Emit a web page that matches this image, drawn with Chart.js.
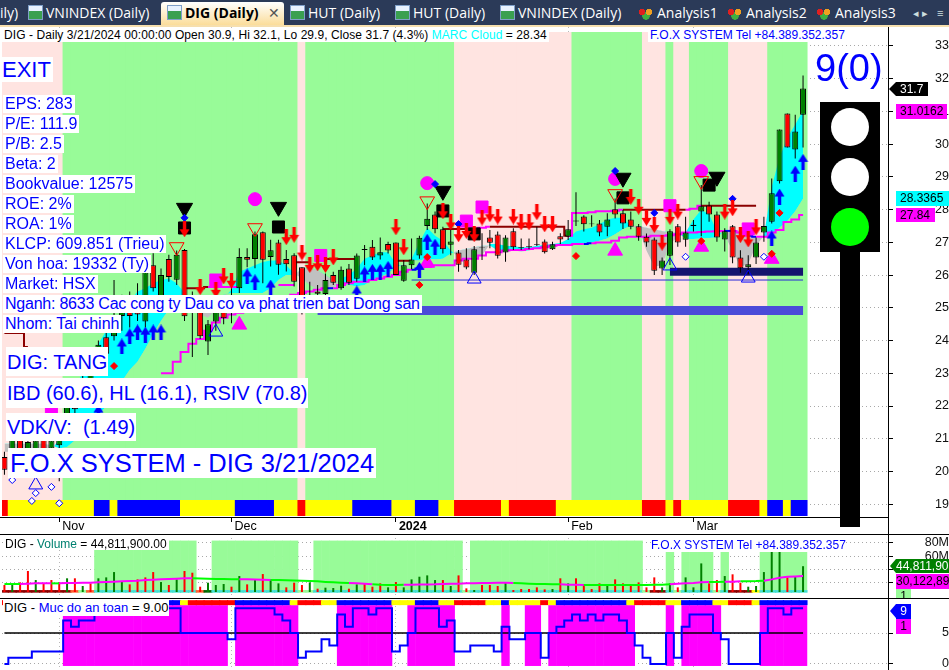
<!DOCTYPE html>
<html><head><meta charset="utf-8">
<script src="https://cdn.jsdelivr.net/npm/chart.js@4"></script>
<style>
html,body{margin:0;padding:0;width:949px;height:670px;overflow:hidden;background:#fff;font-family:"Liberation Sans",Arial,sans-serif}
canvas{position:absolute;left:0;display:block}
.a{position:absolute;white-space:nowrap}
.lb{position:absolute;white-space:nowrap;background:#fff;color:#00f;padding:0 2px}
.r{font-size:16px;line-height:18px;height:18px;left:3px;margin-top:1px}
.t{position:absolute;top:4px;font:14px/18px "Open Sans",sans-serif;color:#fff;white-space:nowrap}
.ic{position:absolute;top:5px;width:15px;height:15px;background:linear-gradient(#e8f2ff 0 40%,#3aa050 40% 100%);border:1px solid #7f9fc8;box-sizing:border-box}
.ha{position:absolute;top:8px;width:14px;height:12px;background:radial-gradient(circle at 3px 4px,#e02020 3px,transparent 3.5px),radial-gradient(circle at 10px 4px,#f0a020 3px,transparent 3.5px),radial-gradient(circle at 7px 8px,#40b040 3.5px,transparent 4px)}
.tag{position:absolute;font-size:12px;line-height:15px;height:15px;white-space:nowrap;overflow:hidden;padding-left:4px;box-sizing:border-box}
.arr{position:absolute;width:0;height:0;border-top:7px solid transparent;border-bottom:7px solid transparent}
.hl{position:absolute;background:#000}
</style></head><body>

<canvas id="cMain" width="949" height="507" style="top:27px"></canvas>
<canvas id="cVol" width="949" height="64" style="top:534px"></canvas>
<canvas id="cSafe" width="949" height="72" style="top:598px"></canvas>

<div class="a" style="left:0;top:0;width:949px;height:25px;background:#2b3a58"></div>
<div class="a" style="left:0;top:25px;width:949px;height:2px;background:#f6dfae"></div>
<div class="a" style="left:161px;top:2px;width:123px;height:23px;background:linear-gradient(#fff,#fbdd9a);border-radius:3px 3px 0 0"></div>
<span class="t" style="left:0">ily)</span>
<span class="ic" style="left:28px"></span><span class="t" style="left:46px">VNINDEX (Daily)</span>
<span class="ic" style="left:167px"></span><span class="t" style="left:185px;color:#000;font-weight:bold">DIG (Daily)</span><span class="t" style="left:268px;color:#555">✕</span>
<span class="ic" style="left:290px"></span><span class="t" style="left:308px">HUT (Daily)</span>
<span class="ic" style="left:395px"></span><span class="t" style="left:413px">HUT (Daily)</span>
<span class="ic" style="left:500px"></span><span class="t" style="left:518px">VNINDEX (Daily)</span>
<span class="ha" style="left:639px"></span><span class="t" style="left:657px">Analysis1</span>
<span class="ha" style="left:728px"></span><span class="t" style="left:746px">Analysis2</span>
<span class="ha" style="left:817px"></span><span class="t" style="left:835px">Analysis3</span>
<span class="t" style="left:913px;font-size:11px;color:#cdd">◂ ▸</span><span class="t" style="left:937px;font-size:11px;color:#cdd">≡</span>

<div class="hl" style="left:0;top:517px;width:888px;height:1px"></div>
<div class="hl" style="left:0;top:534px;width:949px;height:1px"></div>
<div class="hl" style="left:0;top:598px;width:949px;height:1px"></div>
<div class="hl" style="left:888px;top:27px;width:1px;height:643px"></div>

<div class="lb" style="left:2px;top:28px;height:14px;font-size:12px;line-height:15px;color:#000;padding:0 2px;letter-spacing:.07px">DIG - Daily 3/21/2024 00:00:00 Open 30.9, Hi 32.1, Lo 29.9, Close 31.7 (4.3%) <span style="color:#0ff">MARC Cloud</span> = 28.34</div>
<div class="lb" style="left:648px;top:28px;height:14px;font-size:12px;line-height:15px">F.O.X SYSTEM Tel +84.389.352.357</div>
<div class="lb" style="left:0;top:57px;font-size:22px;line-height:25px;height:25px;padding:0 2px">EXIT</div>
<div class="lb r" style="top:94px">EPS: 283</div>
<div class="lb r" style="top:114px">P/E: 111.9</div>
<div class="lb r" style="top:134px">P/B: 2.5</div>
<div class="lb r" style="top:154px">Beta: 2</div>
<div class="lb r" style="top:174px">Bookvalue: 12575</div>
<div class="lb r" style="top:194px">ROE: 2%</div>
<div class="lb r" style="top:214px">ROA: 1%</div>
<div class="lb r" style="top:234px">KLCP: 609.851 (Trieu)</div>
<div class="lb r" style="top:254px">Von hoa: 19332 (Ty)</div>
<div class="lb r" style="top:274px">Market: HSX</div>
<div class="lb r" style="top:294px;letter-spacing:-.23px">Nganh: 8633 Cac cong ty Dau co va phat trien bat Dong san</div>
<div class="lb r" style="top:314px">Nhom: Tai chinh</div>
<div class="lb" style="left:6px;top:347px;height:29px;font-size:20px;line-height:30px;padding:0 1px">DIG: TANG</div>
<div class="lb" style="left:6px;top:378px;height:30px;font-size:20px;line-height:30px;padding:0 1px">IBD (60.6), HL (16.1), RSIV (70.8)</div>
<div class="lb" style="left:6px;top:413px;height:28px;font-size:20px;line-height:29px;padding:0 1px">VDK/V:&nbsp; (1.49)</div>
<div class="lb" style="left:8px;top:448px;height:30px;font-size:25.5px;line-height:31px;padding:0 2px">F.O.X SYSTEM - DIG 3/21/2024</div>

<div class="a" style="left:815px;top:46px;font-size:38px;line-height:44px;color:#00f">9(0)</div>
<div class="a" style="left:820px;top:102px;width:60px;height:150px;background:#000"></div>
<div class="a" style="left:840px;top:252px;width:20px;height:275px;background:#000"></div>
<div class="a" style="left:831px;top:108px;width:38px;height:38px;border-radius:50%;background:#fff"></div>
<div class="a" style="left:831px;top:158px;width:38px;height:38px;border-radius:50%;background:#fff"></div>
<div class="a" style="left:831px;top:208px;width:38px;height:38px;border-radius:50%;background:#0f0"></div>

<div class="arr" style="left:889px;top:82px;border-right:7px solid #000"></div>
<div class="tag" style="left:896px;top:82px;width:32px;background:#000;color:#fff;height:14px">31.7</div>
<div class="tag" style="left:896px;top:104px;width:51px;background:#f0f;color:#000">31.0162</div>
<div class="tag" style="left:896px;top:191px;width:53px;background:#0ff;color:#000">28.3365</div>
<div class="tag" style="left:896px;top:208px;width:39px;background:#f0f;color:#000;height:14px">27.84</div>

<div class="lb" style="left:3px;top:537px;height:13px;font-size:12px;line-height:14px;color:#000">DIG - <span style="color:#008070">Volume</span> = 44,811,900.00</div>
<div class="a" style="left:651px;top:538px;font-size:12px;line-height:14px;color:#00f;background:#fff">F.O.X SYSTEM Tel +84.389.352.357</div>
<div class="arr" style="left:890px;top:559px;border-right:6px solid #008000"></div>
<div class="tag" style="left:896px;top:559px;width:53px;background:#008000;color:#fff;height:14px;padding-left:0">44,811,900</div>
<div class="tag" style="left:896px;top:574px;width:53px;background:#f0f;color:#000;padding-left:0">30,122,890</div>
<div class="tag" style="left:896px;top:589px;width:15px;height:9px;background:#98fb98;color:#000;text-align:center;padding:0">1</div>

<div class="lb" style="left:3px;top:600px;height:16px;font-size:13px;line-height:16px;color:#000;padding:0 1px">DIG - <span style="color:#00f">Muc do an toan</span> = 9.00</div>
<div class="arr" style="left:890px;top:604px;border-right:6px solid #00f"></div>
<div class="tag" style="left:896px;top:604px;width:15px;background:#00f;color:#fff;padding:0;text-align:center">9</div>
<div class="tag" style="left:896px;top:619px;width:15px;background:#f0f;color:#000;padding:0;text-align:center">1</div>

<script>
const _ = null;
// x positions are bar indexes (0..102); the axis window below maps them to the 8-px bar slots
const monthIdx = [7, 29, 50, 72, 88];
const monthLbl = ['Nov', 'Dec', '2024', 'Feb', 'Mar'];
const priceTicks = [19,20,21,22,23,24,25,26,27,28,29,30,31,32,33];
const volTicks = [20e6,40e6,60e6,80e6];
const safeTicks = [0,5];

const opens = [20.44,20.66,21.0,20.5,20.55,21.0,20.7,20.8,21.3,22.3,22.2,22.7,23.2,24.1,24.13,24.75,24.9,24.95,24.58,26.3,25.3,26.49,25.86,26.77,25.24,24.89,23.97,24.58,24.89,25.0,
25.6,26.55,26.49,27.31,26.55,27.0,26.49,26.61,26.24,25.1,25.5,25.42,26.0,25.6,26.2,25.89,26.8,26.87,26.6,26.95,27.0,25.83,26.3,26.6,27.5,27.85,27.4,26.93,26.69,26.48,
26.07,26.86,27.15,27.24,26.69,27.34,26.85,26.85,26.94,27.03,26.79,27.19,27.17,27.67,27.79,27.58,27.58,27.48,28.01,27.89,27.7,27.49,27.17,27.09,26.2,26.59,27.49,27.08,27.5,27.94,
28.13,27.85,27.09,27.49,26.54,26.24,26.54,27.3,27.63,28.87,30.94,29.84,30.9];
const highs = [20.6,21.1,21.2,21.1,21.2,21.2,21.2,21.5,22.15,22.5,23.0,23.5,24.0,24.4,25.85,25.4,25.5,25.75,26.2,26.67,26.2,26.62,26.75,26.8,25.5,25.2,24.63,25.1,25.2,25.7,
26.82,26.82,27.33,27.33,27.08,27.08,26.77,26.67,26.24,25.8,25.7,26.05,26.1,26.26,26.34,26.66,26.92,27.07,27.15,27.02,27.0,26.46,27.12,27.2,28.19,27.94,27.48,27.48,26.77,26.82,
26.89,27.28,27.38,27.33,27.22,27.43,27.12,27.12,27.48,27.09,27.02,27.28,27.68,28.53,27.83,27.83,27.68,27.89,28.34,27.99,27.94,27.56,27.27,27.15,26.54,27.4,27.56,27.78,27.68,28.75,
28.24,27.94,27.43,27.53,26.76,26.61,27.15,27.78,28.95,30.45,30.94,30.9,32.1];
const lows = [19.9,20.5,20.4,20.3,20.4,20.4,20.4,19.7,21.1,21.7,22.0,22.5,23.0,23.4,24.0,24.3,24.4,24.6,24.4,25.5,25.1,25.8,25.7,24.6,23.5,24.05,23.56,24.3,24.5,24.53,
25.45,26.24,26.21,25.75,26.26,26.01,26.11,25.65,24.8,24.9,24.9,25.34,25.7,25.55,25.7,25.8,26.3,26.46,26.48,26.66,26.0,25.8,26.18,26.5,27.38,27.28,26.66,26.61,26.1,26.18,
26.0,26.46,26.82,26.51,26.41,26.77,26.77,26.79,26.89,26.66,26.77,26.95,27.07,27.5,27.33,27.48,27.19,27.19,27.73,27.41,27.4,27.05,26.87,26.0,26.0,26.31,26.87,26.87,27.33,27.19,
27.63,27.02,26.72,26.36,26.07,26.03,26.34,27.02,27.58,28.8,29.9,29.56,29.9];
const closes = [20.05,20.96,20.6,20.9,20.95,20.6,20.95,21.2,21.97,21.9,22.8,23.3,23.87,23.6,24.28,24.9,24.75,24.8,26.09,25.6,26.0,25.94,26.62,24.74,24.93,24.13,24.5,24.89,24.68,24.9,
26.55,26.47,27.25,26.47,26.76,26.32,26.33,25.8,24.89,25.3,25.43,25.85,25.77,26.16,25.77,26.6,26.77,26.54,26.7,26.75,26.0,26.3,26.48,27.14,27.72,27.4,26.79,27.03,26.32,26.23,
26.79,26.84,26.99,26.59,27.15,26.85,26.82,26.88,26.92,26.7,26.94,27.09,27.4,27.64,27.55,27.55,27.3,27.7,27.85,27.58,27.48,27.17,27.0,26.13,26.45,27.34,27.0,27.3,27.54,28.1,
27.85,27.15,27.34,26.54,26.21,26.33,27.0,27.5,28.5,30.45,29.9,30.39,31.7];

// MARC cloud: two edges, cyan where the first is above the second, grey where below
const cloudA = [20.6,20.6,20.6,20.6,20.6,20.6,20.65,21.0,22.2,22.6,23.0,23.4,23.9,24.3,24.5,24.9,25.2,25.5,25.6,25.75,25.85,25.9,25.75,25.45,25.2,24.8,24.7,24.95,25.3,25.55,
26.1,26.2,26.3,26.4,26.45,26.45,26.3,26.05,25.9,25.7,25.55,25.45,25.6,25.9,26.0,26.2,26.5,26.6,26.7,26.7,26.35,26.25,26.5,27.0,27.45,27.2,27.05,26.75,26.55,26.5,
26.55,26.6,26.95,26.95,26.9,26.88,26.85,26.85,26.9,26.92,26.95,26.98,27.1,27.33,27.4,27.45,27.55,27.7,27.75,27.75,27.5,27.42,26.75,26.26,26.3,26.97,27.15,27.3,27.7,28.0,
27.85,27.35,27.2,26.75,26.25,26.35,26.9,27.2,28.69,29.6,30.2,30.6,31.0162];
const cloudB = [20.85,20.85,20.85,20.85,20.85,20.85,20.8,20.7,20.75,20.95,21.25,21.5,21.7,22.0,22.35,22.75,23.1,23.35,23.75,24.2,24.6,24.95,25.2,25.3,25.3,25.25,25.2,25.15,25.4,25.45,
25.45,25.45,25.45,25.45,25.6,25.85,26.0,26.0,26.2,26.2,26.15,26.0,25.85,25.75,25.7,25.65,25.7,25.85,25.95,26.05,26.25,26.3,26.45,26.45,26.5,26.48,26.5,26.65,26.75,26.8,
26.85,26.9,26.9,26.75,26.75,26.75,26.72,26.75,26.82,26.85,26.88,26.9,26.92,26.97,26.98,27.0,27.05,27.12,27.25,27.4,27.5,27.5,27.45,27.4,27.35,27.3,27.3,27.1,27.1,27.12,
27.13,27.15,27.35,27.4,27.35,27.25,27.15,27.15,27.25,27.45,27.65,27.95,28.3365];

const stopLine = [_,_,_,_,_,_,_,_,_,_,_,_,_,_,_,_,_,_,_,_,23.0,23.0,23.35,23.65,23.9,24.05,24.3,24.55,24.7,24.8,
24.85,24.9,25.0,25.1,25.2,25.3,25.35,25.4,25.45,25.5,25.55,25.6,25.6,25.7,25.75,25.8,25.8,25.85,25.9,25.95,26.0,26.1,26.16,26.2,26.25,26.3,26.3,26.3,26.45,26.5,
26.5,26.6,26.7,26.7,26.75,26.77,26.77,26.8,26.82,26.85,26.9,26.92,26.92,26.95,26.95,26.97,27.0,27.0,27.05,27.15,27.17,27.17,27.17,27.2,27.2,27.22,27.25,27.3,27.3,27.32,
27.33,27.34,27.35,27.35,27.3,27.2,27.17,27.17,27.3,27.38,27.62,27.7,27.84];
const stopBlueBars = [41,52,74,92,95];

const resDark = [24.23,24.23,24.23,23.8,_,_,_,_,_,_,_,_,_,_,_,_,_,_,_,_,_,_,_,25.6,25.6,25.6,25.64,_,_,_,
_,_,_,_,_,_,_,26.39,26.39,26.39,_,26.49,26.49,26.49,26.49,26.49,_,_,_,_,26.44,26.44,26.44,_,_,_,27.41,27.41,27.41,27.41,
27.41,_,27.48,27.48,27.48,27.48,27.48,27.48,27.48,27.48,27.48,27.48,27.2,_,_,_,_,_,_,28.0,28.0,28.0,28.0,28.0,28.0,28.0,28.0,28.0,_,28.12,
28.12,28.12,28.12,28.12,28.12,28.12,28.12,_,_,_,_,_,_];
const resMagenta = [[26,25.64],[27,25.64],[28,25.64],[29,25.64],[30,25.64],[31,_],[35,25.7],[36,25.7],[37,25.7],[38,_],[60,27.41],[61,27.45],[62,27.48],[63,_],[72,27.2],[73,27.9],[74,27.9],[75,27.92],[76,27.95],[77,27.95],[78,27.97],[79,28.0],[80,_],[87,28.0],[88,28.03],[89,28.12]];

const navyBand = [[85,26.1],[102,26.1]];
const blueBand = [[40,24.92],[102,24.92]];
const thinLine = [[52,25.85],[102,25.85]];

function rle(s){const o=[];s.split(' ').forEach(t=>{for(let k=0;k<+t.slice(1);k++)o.push(t[0])});return o}
const mainBand = rle('P8 G30 P1 G19 P15 G9 P3 G1 P2 G5 P5 G5');
const mainRibbon = rle('R1 Y11 B2 Y1 B8 Y7 B5 Y3 R1 Y6 B5 Y3 B3 Y2 R6 Y1 R6 Y11 R3 Y1 R1 Y6 R4 Y1 B2 Y1 B2');
const volBand = rle('N12 T13 N2 T11 N2 T19 N1 T22 N3 S1 N1 S4 N1 S1 N4 S6');
const volStrip = rle('D9 O1 G1 O1 T13 O1 K1 T11 G2 T19 G1 T22 G1 D2 T1 G1 T4 G1 T1 D3 Y1 T6');
const safeBand = rle('N8 M21 N1 M8 N5 M7 N2 M6 N6 M1 N2 M2 N1 M11 N4 M1 N1 M5 N5 M6');
const safeRibbon = rle('R1 Y11 B2 Y1 B8 Y1 R6 B7 Y1 R3 Y2 B7 Y3 B3 Y2 R4 Y2 B1 Y4 R1 Y1 B9 Y1 R4 Y2 B4 Y2 R3 Y1 B6');
const safeLine = [0,1,1,1,2,2,2,2,7,6,7,7,8,8,8,9,9,9,9,9,9,9,9,5,5,5,5,5,5,4,
9,9,9,9,9,8,7,5,1,2,2,4,3,8,6,9,9,8,9,9,2,3,5,9,9,9,6,7,2,2,
3,3,3,2,6,4,4,5,5,1,5,6,7,8,7,8,7,8,8,7,5,3,1,0,0,5,1,6,8,8,
8,5,4,0,0,0,0,5,9,9,8,9,9];

const volumes = [16.5,16.5,20.5,37.6,24,19,24,20.5,26.6,26.6,15,19,26.6,28,36,21.5,17.5,25,28,36,21,16.5,25,37.6,35,14,20,16.5,18,14,
30,17.5,25,33,25,19,13,20,16.5,20.5,11,12.5,12,15.5,11,17.5,18,14,19,13,21,13,25,29,31,24,24,15,31,11.5,
9,16.5,16.5,15,20,9,10.5,10.5,13,10,10.5,26.6,19,26.6,17.5,10.5,19,16.5,25,19,16.5,20.5,13,28,13,19,13,28,13,49,
19,24,30,32.6,20,14,15,36,67.7,67.7,28,29,44.81].map(v=>v*1e6);
const volUpDown = 'rgrrgrrrgrgrggggrrrrgrgrrrgggrgrgrggrrrgrgggrgrrrgrgggggrgrrgrrrgrrrrrgrgrrrrgrrrrrrggrgggrrgrrgggggrgg'.split('');
const volMA = [18,18,18,18.5,19,19,19,19,19.5,19.5,20,20,20.5,21,21.5,22,22.5,23,24,24.5,25,25.5,26,26.6,26.6,26.3,26,25.5,25.5,25.2,
25,25,24.8,24.5,24,24,23.7,23.3,23,22.5,22,21.2,20.5,20,19.5,19,18.3,17.8,17,16.5,16.5,17,17,17.2,17.3,17.5,18,18.5,18.5,19,
19,19.5,19.5,20,20,19.5,19,18.5,18,18,17.5,17.5,17,17,16.5,16.5,16.5,16.5,16.5,16.5,16.5,16.5,16.5,17,17,17.5,18.5,19,19.5,20.5,
21,21,21.5,21.5,22,22.3,22.5,23,25,27.5,29,29.5,30.12].map(v=>v*1e6);
const volMAColor = rle('G2 M4 G1 M17 G6 M4 G10 M3 G4 M14 G6 M3 G11 M5 G2 M2 G3 M6');

// markers: [bar index, price]
const redArrows = [[23,27.40],[25,25.63],[27,25.55],[28,25.96],[29,25.83],[36,27.16],[37,27.23],[38,26.69],[39,26.31],[40,26.36],[41,26.31],[42,26.54],[50,27.46],[51,26.85],[56,27.95],[57,27.61],[58,27.25],[59,27.35],[60,27.25],[61,27.76],[62,27.86],[63,27.79],[65,27.79],[66,27.61],[67,27.61],[68,27.92],[69,27.55],[70,27.55],[80,28.39],[81,28.09],[82,27.75],[83,27.53],[84,26.99],[85,27.78],[86,27.94],[92,27.94],[93,28.04],[94,27.22],[95,27.09],[96,27.46]];
const blueArrows = [[12,21.8],[15,23.82],[16,24.13],[17,24.25],[18,24.18],[19,24.25],[20,24.25],[31,25.96],[32,25.78],[34,25.62],[45,25.44],[46,26.02],[47,26.1],[48,26.1],[49,26.19],[53,26.16],[54,27.02],[55,26.87],[98,27.12],[99,28.4],[101,29.1],[102,29.46]];
const blackDown = [[23,28.05],[35,28.08],[56,28.57],[79,28.97],[91,29.0]];
const blackSquare = [[23,27.44],[35,27.47],[56,27.96],[60,27.26],[79,28.36],[90,28.75]];
const magSquare = [[6,21.94],[27,25.85],[40.4,26.6],[59,27.65],[61,28.08],[85,28.12],[95,27.41]];
const magCircle = [[32,28.32],[54,28.81],[78,28.94],[89,29.18]];
const magTriangle = [[30,24.48],[54,26.37],[78,26.74],[89,26.86],[98,26.49]];
const redHollowDown = [[22,26.86],[32,27.44],[54,28.26],[78,28.48],[89,28.88]];
const blueHollowUp = [[27,24.26],[60,25.88],[85,26.28],[95,25.91],[4,19.59]];
const redDiamond = [[14,23.22],[53,25.7],[54,26.55],[73,26.58],[89,27.04],[98,26.65],[99,27.9]];
const blueDiamond = [[23,27.75],[55,28.78],[58,27.56],[78,29.18],[83,27.9],[93,28.33]];
const blueHollowDiamond = [[87,26.56],[97,26.56],[6,19.53],[4,19.34],[1,19.74],[3.5,19.1],[7,19.03]];

// axis windows
const X_MIN=-0.31, X_MAX=112.85;
const idx = opens.map((v,i)=>i);
const pts = a => a.map(p=>({x:p[0],y:p[1]}));
const ser = a => a.map((v,i)=>({x:i,y:v}));
const colr = {G:'#98fb98',P:'#ffe4e1',R:'#ff0000',Y:'#ffff00',B:'#0000ff',T:'#40e0d0',D:'#8b0000',O:'#ff6030',K:'#006400',M:'#ff00ff'};

function arrow(color,up){const c=document.createElement('canvas');c.width=11;c.height=16;const g=c.getContext('2d');g.fillStyle=color;
 g.beginPath();if(up){g.moveTo(5.5,0);g.lineTo(10.5,8);g.lineTo(7.2,8);g.lineTo(7.2,16);g.lineTo(3.8,16);g.lineTo(3.8,8);g.lineTo(.5,8)}
 else{g.moveTo(5.5,16);g.lineTo(10.5,8);g.lineTo(7.2,8);g.lineTo(7.2,0);g.lineTo(3.8,0);g.lineTo(3.8,8);g.lineTo(.5,8)}g.closePath();g.fill();return c}

const band=(data,colors,order,thick=9)=>({type:'bar',grouped:false,barThickness:thick,order,data,backgroundColor:colors,borderWidth:0,inflateAmount:0});
const mark=(data,style,r,fill,stroke,order,rot=0,bw=1)=>({type:'line',showLine:false,data:pts(data),pointStyle:style,pointRadius:r,pointBackgroundColor:fill,pointBorderColor:stroke,pointBorderWidth:bw,pointRotation:rot,order});
const line=(data,color,w,order,extra={})=>Object.assign({type:'line',data,borderColor:color,borderWidth:w,pointRadius:0,order,stepped:'middle',tension:0},extra);
const noPad=s=>{s.paddingTop=s.paddingBottom=s.paddingLeft=s.paddingRight=0};

function xAxis(opts){return Object.assign({type:'linear',min:X_MIN,max:X_MAX,offset:false,
  afterBuildTicks:s=>{s.ticks=monthIdx.map(v=>({value:v}))},
  grid:{display:true,color:'#b8b8b8',drawTicks:false,lineWidth:1,offset:false},border:{display:false,dash:[1,3]},
  afterFit:s=>{s.height=0;noPad(s)},ticks:{display:false}},opts)}
function yAxis(min,max,ticks,pad,cb){return {type:'linear',position:'right',min,max,
  afterBuildTicks:s=>{s.ticks=ticks.map(v=>({value:v}))},
  afterFit:s=>{s.width=61;noPad(s)},
  grid:{color:'#a8a8a8',tickColor:'#000',tickLength:5,lineWidth:1,tickBorderDash:[]},border:{display:false,dash:[1,3]},
  ticks:{color:'#111',font:{family:'"Liberation Sans"',size:12.5},padding:pad,crossAlign:'far',autoSkip:false,maxRotation:0,callback:cb||(v=>v)}}}
const base={responsive:false,animation:false,events:[],layout:{autoPadding:false,padding:{left:2,right:0,top:0,bottom:0}},plugins:{legend:{display:false},tooltip:{enabled:false},title:{display:false}}};

// ---- main pane
new Chart(document.getElementById('cMain'),{type:'bar',
 data:{datasets:[
  band(idx.map(i=>({x:i,y:[19.13,33.43]})),mainBand.map(k=>colr[k]),100),
  band(idx.map(i=>({x:i,y:[18.64,19.13]})),mainRibbon.map(k=>colr[k]),100),
  line(ser(cloudA),'transparent',0,90,{stepped:false,fill:{target:'+1',above:'#00ffff',below:'#c0c0c0'}}),
  line(ser(cloudB),'transparent',0,91,{stepped:false}),
  line(pts(blueBand),'#4b4bd8',9,80,{stepped:false,borderCapStyle:'butt'}),
  line(pts(navyBand),'#14146e',8,80,{stepped:false}),
  line(pts(thinLine),'#2a2ad8',1,80,{stepped:false}),
  line(ser(stopLine),'#ff00ff',2,70,{segment:{borderColor:c=>stopBlueBars.includes(c.p0DataIndex)?'#0000ff':undefined}}),
  line(ser(resDark),'#8b0000',2,69),
  line(pts(resMagenta),'#ff00ff',2,69),
  {type:'bar',grouped:false,barThickness:1,order:60,data:idx.map(i=>({x:i,y:[lows[i],highs[i]]})),backgroundColor:'#000',borderWidth:0,inflateAmount:0},
  {type:'bar',grouped:false,barThickness:6,order:50,data:idx.map(i=>({x:i,y:[Math.min(opens[i],closes[i]),Math.max(opens[i],closes[i])]})),
   backgroundColor:idx.map(i=>closes[i]>=opens[i]?'#008000':'#ff0000'),borderColor:'#000',borderWidth:1,borderSkipped:false,inflateAmount:0},
  mark(magSquare,'rect',8.5,'#ff00ff','#ff00ff',42),
  mark(magTriangle,'triangle',8.5,'#ff00ff','#ff00ff',42),
  mark(magCircle,'circle',6.5,'#ff00ff','#ff00ff',42),
  mark(blackSquare,'rect',8.5,'#000','#000',41),
  mark(blackDown,'triangle',9.3,'#000','#000',40,180),
  mark(redHollowDown,'triangle',8.5,'transparent','#ff0000',40,180),
  mark(blueHollowUp,'triangle',8,'transparent','#0000ff',40),
  mark(redDiamond,'rectRot',3.5,'#ff0000','#ff0000',39),
  mark(blueDiamond,'rectRot',3.5,'#0000ff','#0000ff',39),
  mark(blueHollowDiamond,'rectRot',3.5,'#fff','#0000ff',39),
  mark(blueArrows,arrow('#0000ff',true),6,'#00f','#00f',38),
  mark(redArrows,arrow('#ff0000',false),6,'#f00','#f00',37)
 ]},
 options:Object.assign({},base,{scales:{
  x:Object.assign(xAxis(),{
    afterFit:s=>{s.height=17;noPad(s)},
    grid:{display:true,color:'#b8b8b8',drawTicks:true,tickLength:5,tickColor:'#000',tickBorderDash:[],lineWidth:1,offset:false},
    ticks:{display:true,autoSkip:false,maxRotation:0,align:'start',labelOffset:3,padding:-3,color:'#000',
      font:c=>({family:'"Liberation Sans"',size:12.5,weight:(c.tick&&c.tick.value===50)?'bold':'normal'}),
      callback:v=>monthLbl[monthIdx.indexOf(v)]||''}}),
  y:yAxis(18.61,33.58,priceTicks,34)}})
});

// ---- volume pane
new Chart(document.getElementById('cVol'),{type:'bar',
 data:{datasets:[
  band(idx.map(i=>({x:i,y:[8.9e6,volBand[i]==='T'?83.3e6:(volBand[i]==='S'?68.2e6:8.9e6)]})),'#98fb98',100,8.4),
  band(idx.map(i=>({x:i,y:[5e6,8.9e6]})),volStrip.map(k=>colr[k]),99),
  {type:'bar',grouped:false,barThickness:2,order:50,base:6e6,data:idx.map(i=>({x:i,y:volumes[i]})),backgroundColor:volUpDown.map(k=>k==='g'?'#008000':'#ff0000'),borderWidth:0,inflateAmount:0},
  line(ser(volMA),'#00ff00',2,40,{stepped:false,segment:{borderColor:c=>volMAColor[c.p0DataIndex]==='M'?'#ff00ff':'#00ff00'}})
 ]},
 options:Object.assign({},base,{scales:{x:xAxis(),
  y:yAxis(-3e6,93.2e6,volTicks,24,v=>(v/1e6)+'M')}})
});

// ---- safety pane
const midLevel = idx.map(i=>({x:i,y:safeTicks[1]}));
new Chart(document.getElementById('cSafe'),{type:'bar',
 data:{datasets:[
  band(idx.map(i=>({x:i,y:[-0.32,safeBand[i]==='M'?9.5:-0.32]})),'#ff00ff',100,8.4),
  band(idx.map(i=>({x:i,y:[9.5,10.3]})),safeRibbon.map(k=>colr[k]),99),
  line(midLevel,'#000',1.5,50,{stepped:false}),
  line(ser(safeLine),'#0000ff',2,40)
 ]},
 options:Object.assign({},base,{scales:{x:xAxis(),
  y:yAxis(-0.97,10.65,safeTicks,40)}})
});
</script>
</body></html>
